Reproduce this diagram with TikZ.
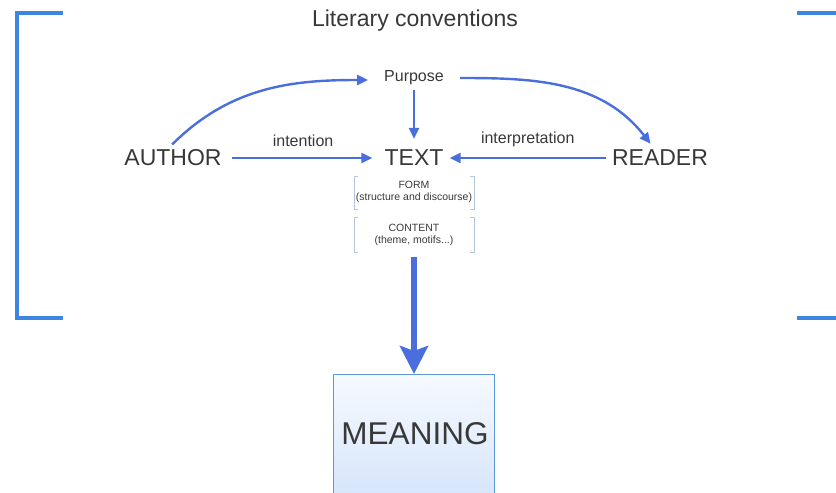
\documentclass[tikz,border=0pt]{standalone}
\usepackage{fontspec}
\setmainfont{Liberation Sans}
\usepackage{tikz}
\usetikzlibrary{positioning}
\usetikzlibrary{calc}
\usetikzlibrary{arrows.meta}
\definecolor{linkblue}{HTML}{4A6EDC}
\definecolor{frameblue}{HTML}{3D85E0}
\definecolor{boxblue}{HTML}{5A9AD8}
\definecolor{paleblue}{HTML}{D4E4FA}
\definecolor{thinblue}{HTML}{B4C6DC}
\definecolor{ink}{HTML}{383838}
\tikzset{bigword/.style={font=\fontsize{23}{26}\selectfont, text=ink, inner sep=3pt},
midword/.style={font=\fontsize{16}{18}\selectfont, text=ink, inner sep=3pt},
smallword/.style={font=\fontsize{10.5}{12}\selectfont, text=ink, align=center, inner sep=0pt},
link/.style={draw=linkblue, line width=2.4pt, -{Triangle[length=11pt,width=10pt]}},
frame/.style={draw=frameblue, line width=4pt},
thinframe/.style={draw=thinblue, line width=0.9pt}}

\begin{document}
\begin{tikzpicture}[x=1pt,y=-1pt]
\useasboundingbox (0,0) rectangle (836,493);

\node (title) [bigword] at (415,21) {Literary conventions};
\draw [frame] (63,13) -- (17,13) -- (17,318) -- (63,318);
\draw [frame] (797,13) -- (836,13);
\draw [frame] (797,318) -- (836,318);

\node (author) [bigword] at (173,158) {AUTHOR};
\node (text) [bigword] at (414,158) {TEXT};
\node (reader) [bigword] at (660,158) {READER};
\node (purpose) [midword] at (414,78) {Purpose};

\draw [link, shorten <=7pt, shorten >=9pt] (author.east) -- node (intention) [midword, above=7pt] {intention} (text.west);
\draw [link, shorten <=3pt, shorten >=3pt] (reader.west) -- node (interp) [midword, above=7pt] {interpretation} (text.east);
\draw [link, shorten <=2pt, shorten >=8pt] (purpose.south) -- (text.north);
\draw [link, shorten <=3pt, shorten >=13pt] ([xshift=-3pt]author.north) to[out=45,in=180] ([yshift=-2pt]purpose.west);
\draw [link, shorten <=13pt, shorten >=4pt] (purpose.east) to[out=0,in=128] ([xshift=-7pt]reader.north);

\node (form) [smallword] at (414,192) {FORM\\(structure and discourse)};
\node (content) [smallword] at (414,235) {CONTENT\\(theme, motifs...)};
\draw [thinframe] (358,176) -- (354,176) -- (354,209) -- (358,209);
\draw [thinframe] (470,176) -- (474,176) -- (474,209) -- (470,209);
\draw [thinframe] (358,217) -- (354,217) -- (354,252) -- (358,252);
\draw [thinframe] (470,217) -- (474,217) -- (474,252) -- (470,252);
\coordinate (contentfoot) at (414,257);

\node (meaning) [draw=boxblue, line width=1.2pt, top color=paleblue!20, bottom color=paleblue, minimum width=161pt, minimum height=130pt, anchor=north] at (414,374) {};
\node (meaningword) [font=\fontsize{31.5}{34}\selectfont, text=ink] at (415,434) {MEANING};
\draw [draw=linkblue, line width=6.5pt, -{Stealth[length=28pt,width=28pt,inset=5pt]}] (contentfoot) -- (meaning.north);
\end{tikzpicture}
\end{document}
